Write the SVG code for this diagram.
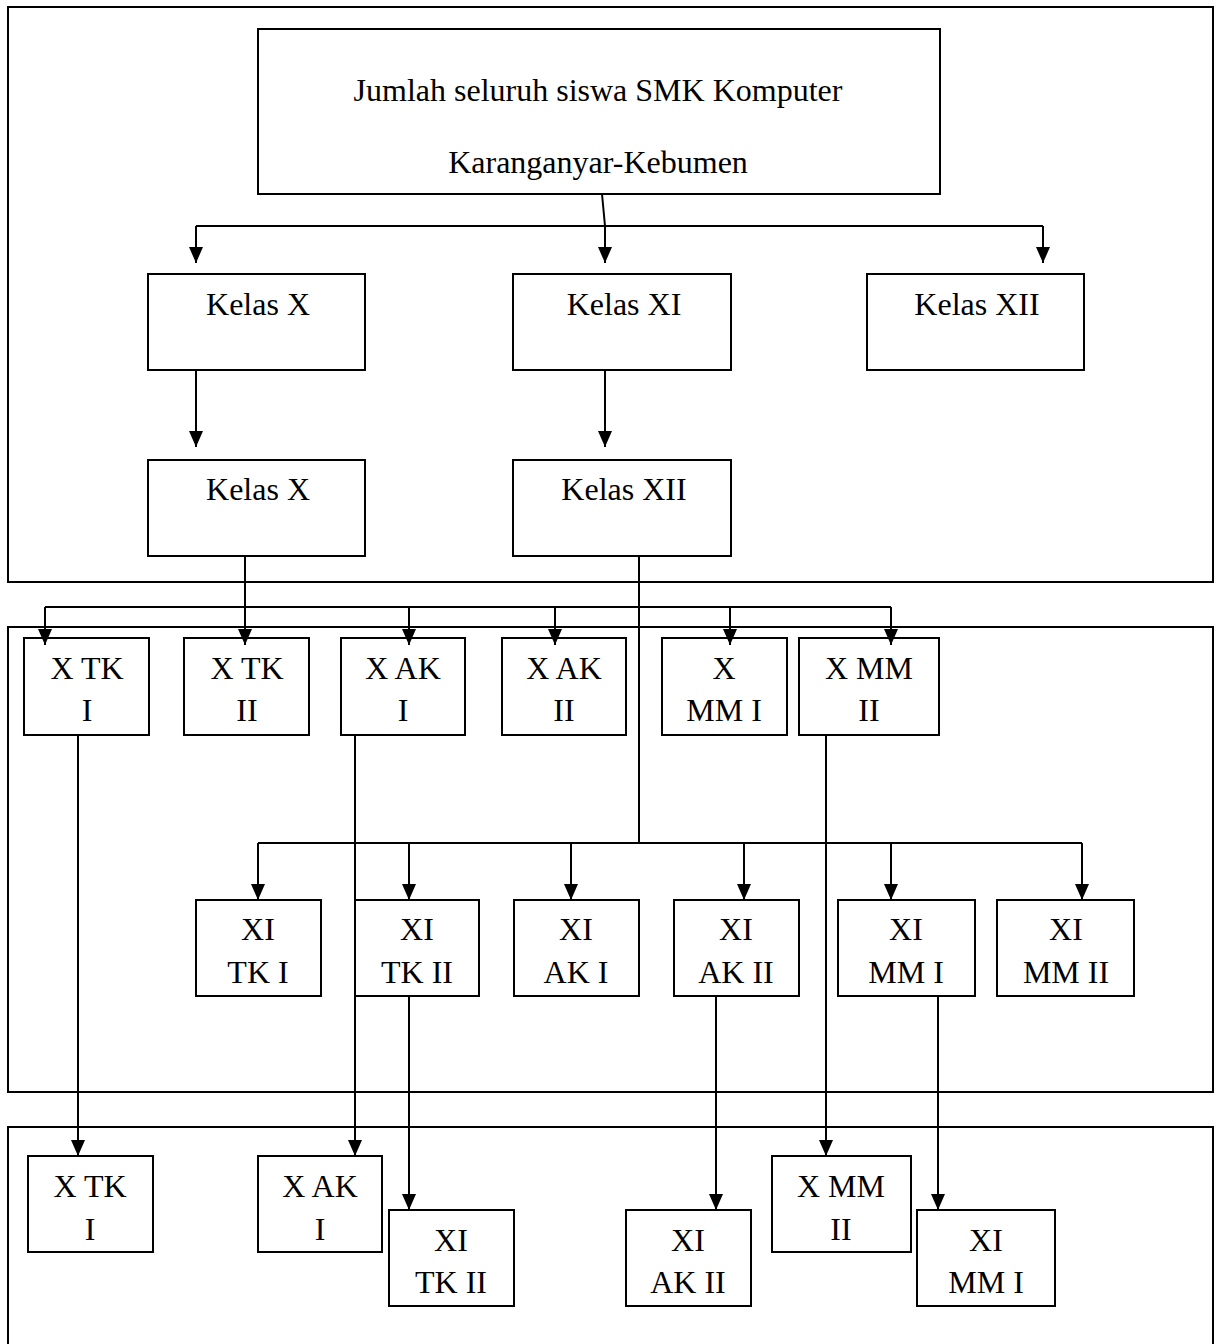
<svg xmlns="http://www.w3.org/2000/svg" width="1216" height="1344" viewBox="0 0 1216 1344">
<defs>
<marker id="ah" markerWidth="16" markerHeight="14" refX="16" refY="7" orient="auto" markerUnits="userSpaceOnUse" viewBox="0 0 16 14">
<path d="M0,0 L16,7 L0,14 Z" fill="#000"/>
</marker>
</defs>
<style>
.frame{fill:none;stroke:#000;stroke-width:2}
.box{fill:#fff;stroke:#000;stroke-width:2}
text{font-family:"Liberation Serif","Times New Roman",serif;font-size:32px;fill:#000;text-anchor:middle}
.c{fill:none;stroke:#000;stroke-width:2}
.a{fill:none;stroke:#000;stroke-width:2;marker-end:url(#ah)}
</style>
<rect width="1216" height="1344" fill="#fff"/>
<g id="frames">
<rect class="frame" x="8" y="7" width="1205" height="575"/>
<rect class="frame" x="8" y="627" width="1205" height="465"/>
<rect class="frame" x="8" y="1127" width="1205" height="230"/>
</g>
<g id="n-title"><rect class="box" x="258" y="29" width="682" height="165"/><text x="598" y="101">Jumlah seluruh siswa SMK Komputer</text><text x="598" y="173">Karanganyar-Kebumen</text></g>
<g id="n-kelasX1"><rect class="box" x="148" y="274" width="217" height="96"/><text x="258" y="315">Kelas X</text></g>
<g id="n-kelasXI"><rect class="box" x="513" y="274" width="218" height="96"/><text x="624" y="315">Kelas XI</text></g>
<g id="n-kelasXII"><rect class="box" x="867" y="274" width="217" height="96"/><text x="977" y="315">Kelas XII</text></g>
<g id="n-kelasX2"><rect class="box" x="148" y="460" width="217" height="96"/><text x="258" y="500">Kelas X</text></g>
<g id="n-kelasXII2"><rect class="box" x="513" y="460" width="218" height="96"/><text x="624" y="500">Kelas XII</text></g>

<g id="n-xtk1"><rect class="box" x="24" y="638" width="125" height="97"/><text x="87" y="679">X TK</text><text x="87" y="721">I</text></g>
<g id="n-xtk2"><rect class="box" x="184" y="638" width="125" height="97"/><text x="247" y="679">X TK</text><text x="247" y="721">II</text></g>
<g id="n-xak1"><rect class="box" x="341" y="638" width="124" height="97"/><text x="403" y="679">X AK</text><text x="403" y="721">I</text></g>
<g id="n-xak2"><rect class="box" x="502" y="638" width="124" height="97"/><text x="564" y="679">X AK</text><text x="564" y="721">II</text></g>
<g id="n-xmm1"><rect class="box" x="662" y="638" width="125" height="97"/><text x="724" y="679">X</text><text x="724" y="721">MM I</text></g>
<g id="n-xmm2"><rect class="box" x="799" y="638" width="140" height="97"/><text x="869" y="679">X MM</text><text x="869" y="721">II</text></g>

<g id="n-xitk1"><rect class="box" x="196" y="900" width="125" height="96"/><text x="258" y="940">XI</text><text x="258" y="983">TK I</text></g>
<g id="n-xitk2"><rect class="box" x="355" y="900" width="124" height="96"/><text x="417" y="940">XI</text><text x="417" y="983">TK II</text></g>
<g id="n-xiak1"><rect class="box" x="514" y="900" width="125" height="96"/><text x="576" y="940">XI</text><text x="576" y="983">AK I</text></g>
<g id="n-xiak2"><rect class="box" x="674" y="900" width="125" height="96"/><text x="736" y="940">XI</text><text x="736" y="983">AK II</text></g>
<g id="n-ximm1"><rect class="box" x="838" y="900" width="137" height="96"/><text x="906" y="940">XI</text><text x="906" y="983">MM I</text></g>
<g id="n-ximm2"><rect class="box" x="997" y="900" width="137" height="96"/><text x="1066" y="940">XI</text><text x="1066" y="983">MM II</text></g>

<g id="n-xtk1b"><rect class="box" x="28" y="1156" width="125" height="96"/><text x="90" y="1197">X TK</text><text x="90" y="1240">I</text></g>
<g id="n-xak1b"><rect class="box" x="258" y="1156" width="124" height="96"/><text x="320" y="1197">X AK</text><text x="320" y="1240">I</text></g>
<g id="n-xitk2b"><rect class="box" x="389" y="1210" width="125" height="96"/><text x="451" y="1251">XI</text><text x="451" y="1293">TK II</text></g>
<g id="n-xiak2b"><rect class="box" x="626" y="1210" width="125" height="96"/><text x="688" y="1251">XI</text><text x="688" y="1293">AK II</text></g>
<g id="n-xmm2b"><rect class="box" x="772" y="1156" width="139" height="96"/><text x="841" y="1197">X MM</text><text x="841" y="1240">II</text></g>
<g id="n-ximm1b"><rect class="box" x="917" y="1210" width="138" height="96"/><text x="986" y="1251">XI</text><text x="986" y="1293">MM I</text></g>
<g id="connectors">
<path class="c" d="M602,194 L605,226"/>
<path class="c" d="M196,226 L1043,226"/>
<path class="a" d="M196,226 L196,263"/>
<path class="a" d="M605,226 L605,263"/>
<path class="a" d="M1043,226 L1043,263"/>
<path class="a" d="M196,370 L196,447"/>
<path class="a" d="M605,370 L605,447"/>
<path class="c" d="M245,556 L245,607"/>
<path class="c" d="M45,607 L891,607"/>
<path class="a" d="M45,607 L45,645"/>
<path class="a" d="M245,607 L245,645"/>
<path class="a" d="M409,607 L409,645"/>
<path class="a" d="M555,607 L555,645"/>
<path class="a" d="M730,607 L730,645"/>
<path class="a" d="M891,607 L891,645"/>
<path class="c" d="M639,556 L639,843"/>
<path class="c" d="M258,843 L1082,843"/>
<path class="a" d="M258,843 L258,900"/>
<path class="a" d="M409,843 L409,900"/>
<path class="a" d="M571,843 L571,900"/>
<path class="a" d="M744,843 L744,900"/>
<path class="a" d="M891,843 L891,900"/>
<path class="a" d="M1082,843 L1082,900"/>
<path class="a" d="M78,735 L78,1156"/>
<path class="a" d="M355,735 L355,1156"/>
<path class="a" d="M826,735 L826,1156"/>
<path class="a" d="M409,996 L409,1210"/>
<path class="a" d="M716,996 L716,1210"/>
<path class="a" d="M938,996 L938,1210"/>
</g>
</svg>
